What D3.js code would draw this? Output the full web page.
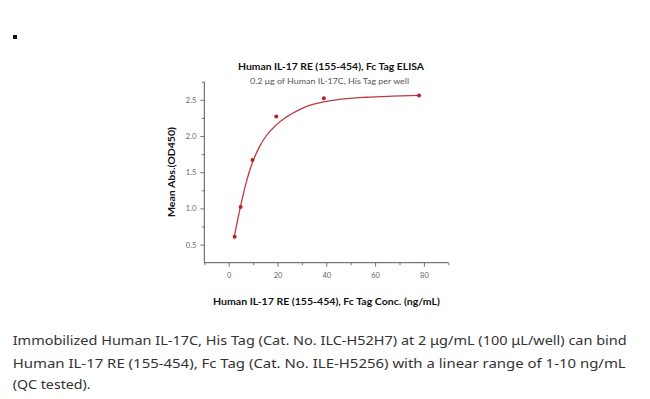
<!DOCTYPE html>
<html>
<head>
<meta charset="utf-8">
<script src="https://cdn.jsdelivr.net/npm/d3@7"></script>
<style>
  html, body { margin: 0; padding: 0; background: #fff; }
  svg { display: block; }
</style>
</head>
<body>
<script>
// ---- Data ----
const concentrations = [2.44, 4.88, 9.75, 19.5, 39, 78];
const meanAbs = [0.61, 1.02, 1.67, 2.27, 2.52, 2.56];
// fitted curve
const fitX = [2.3, 4.8, 7.1, 9.8, 12.6, 15.3, 19.4, 23.5, 27.6, 32, 38.9, 45.4, 56.3, 67.2, 78];
const fitY = [0.61, 1.02, 1.35, 1.64, 1.85, 2.0, 2.15, 2.26, 2.34, 2.41, 2.47, 2.505, 2.535, 2.55, 2.56];
const xTicks = [0, 20, 40, 60, 80];
const xMinorTicks = [-10, 10, 30, 50, 70, 90];
const yTicks = [0.5, 1.0, 1.5, 2.0, 2.5];
const yMinorTicks = [0.75, 1.25, 1.75, 2.25, 2.75];
const title = "Human IL-17 RE (155-454), Fc Tag ELISA";
const subtitle = "0.2 \u03bcg of Human IL-17C, His Tag per well";
const xLabel = "Human IL-17 RE (155-454), Fc Tag Conc. (ng/mL)";
const yLabel = "Mean Abs.(OD450)";
const captionLines = [
  "Immobilized Human IL-17C, His Tag (Cat. No. ILC-H52H7) at 2 \u03bcg/mL (100 \u03bcL/well) can bind",
  "Human IL-17 RE (155-454), Fc Tag (Cat. No. ILE-H5256) with a linear range of 1-10 ng/mL",
  "(QC tested)."
];

const W = 650, H = 399;
const svg = d3.select("body").append("svg").attr("width", W).attr("height", H);

const pLeft = 204.3, pRight = 448.3, pTop = 81.7, pBottom = 262.7;
const x = d3.scaleLinear().domain([-10, 90]).range([pLeft, pRight]);
const y = d3.scaleLinear().domain([0.25, 2.75]).range([pBottom, pTop]);

const axisColor = "#555";
const font = "Lato, 'Open Sans', sans-serif";

// bullet
svg.append("rect").attr("x", 13).attr("y", 35).attr("width", 4).attr("height", 4).attr("fill", "#111");

// axes
const xAxis = svg.append("g").attr("transform", `translate(0,${pBottom})`)
  .call(d3.axisBottom(x).tickValues(xTicks).tickSize(4).tickPadding(6).tickFormat(d3.format("d")));
const xMinor = svg.append("g").attr("transform", `translate(0,${pBottom})`)
  .call(d3.axisBottom(x).tickValues(xMinorTicks).tickSize(2.5).tickFormat(""));
const yAxis = svg.append("g").attr("transform", `translate(${pLeft},0)`)
  .call(d3.axisLeft(y).tickValues(yTicks).tickSize(4).tickPadding(4).tickFormat(d3.format(".1f")));
const yMinor = svg.append("g").attr("transform", `translate(${pLeft},0)`)
  .call(d3.axisLeft(y).tickValues(yMinorTicks).tickSize(2.5).tickFormat(""));

[xAxis, xMinor, yAxis, yMinor].forEach(g => {
  g.select(".domain").attr("stroke", axisColor).attr("stroke-width", 1);
  g.selectAll(".tick line").attr("stroke", axisColor).attr("stroke-width", 0.8);
  g.selectAll(".tick text").attr("fill", "#666").style("font-family", font).style("font-size", "7.5px");
});
xMinor.select(".domain").remove();
yMinor.select(".domain").remove();
yAxis.select(".domain").attr("d", `M0,${pBottom}V${pTop}`);
xAxis.select(".domain").attr("d", `M${pLeft},0H${pRight}`);

// fitted curve
const fit = fitX.map((v, i) => [v, fitY[i]]);
svg.append("path").datum(fit)
  .attr("d", d3.line().x(d => x(d[0])).y(d => y(d[1])).curve(d3.curveMonotoneX))
  .attr("fill", "none").attr("stroke", "#c0393f").attr("stroke-width", 1.3);

// points
svg.selectAll("circle.pt").data(concentrations.map((c, i) => [c, meanAbs[i]]))
  .enter().append("circle").attr("class", "pt")
  .attr("cx", d => x(d[0])).attr("cy", d => y(d[1])).attr("r", 2)
  .attr("fill", "#b3202a");

// titles
svg.append("text").attr("x", 238).attr("y", 70)
  .attr("textLength", 186).attr("lengthAdjust", "spacingAndGlyphs")
  .style("font-family", font).style("font-weight", "bold").style("font-size", "9.5px").attr("fill", "#111")
  .text(title);
svg.append("text").attr("x", 250).attr("y", 84)
  .attr("textLength", 159).attr("lengthAdjust", "spacingAndGlyphs")
  .style("font-family", font).style("font-size", "8px").attr("fill", "#555")
  .text(subtitle);
svg.append("text").attr("x", 213).attr("y", 305)
  .attr("textLength", 227).attr("lengthAdjust", "spacingAndGlyphs")
  .style("font-family", font).style("font-weight", "bold").style("font-size", "9.5px").attr("fill", "#111")
  .text(xLabel);
svg.append("text").attr("transform", `translate(175,217) rotate(-90)`)
  .attr("textLength", 90).attr("lengthAdjust", "spacingAndGlyphs")
  .style("font-family", font).style("font-weight", "bold").style("font-size", "9.5px").attr("fill", "#111")
  .text(yLabel);

// caption
const capBase = [345, 367.5, 389];
const capLen = [614, 613, 78];
svg.selectAll("text.cap").data(captionLines).enter().append("text").attr("class", "cap")
  .attr("x", 12.7).attr("y", (d, i) => capBase[i])
  .attr("textLength", (d, i) => capLen[i]).attr("lengthAdjust", "spacingAndGlyphs")
  .style("font-family", "'Noto Sans', sans-serif").style("font-size", "12.5px").attr("fill", "#333")
  .text(d => d);
</script>
</body>
</html>
